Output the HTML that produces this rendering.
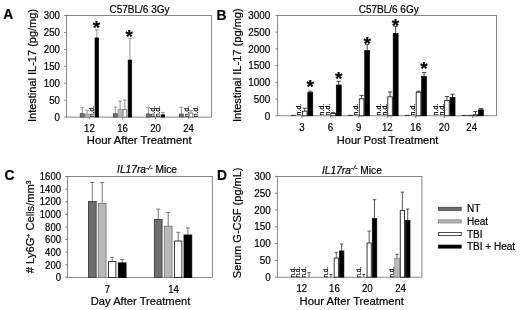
<!DOCTYPE html>
<html lang="en">
<head>
<meta charset="utf-8">
<title>Figure</title>
<style>
html,body{margin:0;padding:0;background:#fff;}
body{width:520px;height:310px;overflow:hidden;}
svg{display:block;filter:blur(0.3px);font-family:'Liberation Sans', Arial, sans-serif;fill:#000;}
text{stroke:#000;stroke-width:0.2px;}
</style>
</head>
<body>
<svg width="520" height="310" viewBox="0 0 520 310">
<rect x="0" y="0" width="520" height="310" fill="#ffffff"/>
<rect x="66.40" y="15.50" width="145.20" height="101.60" fill="none" stroke="#606060" stroke-width="0.75"/>
<line x1="64.10" y1="117.10" x2="66.40" y2="117.10" stroke="#606060" stroke-width="0.75"/>
<text transform="translate(60.00 120.92) scale(0.95 1)" font-size="10.2" text-anchor="end" font-weight="normal" font-style="normal">0</text>
<line x1="64.10" y1="100.17" x2="66.40" y2="100.17" stroke="#606060" stroke-width="0.75"/>
<text transform="translate(60.00 103.99) scale(0.95 1)" font-size="10.2" text-anchor="end" font-weight="normal" font-style="normal">50</text>
<line x1="64.10" y1="83.23" x2="66.40" y2="83.23" stroke="#606060" stroke-width="0.75"/>
<text transform="translate(60.00 87.06) scale(0.95 1)" font-size="10.2" text-anchor="end" font-weight="normal" font-style="normal">100</text>
<line x1="64.10" y1="66.30" x2="66.40" y2="66.30" stroke="#606060" stroke-width="0.75"/>
<text transform="translate(60.00 70.12) scale(0.95 1)" font-size="10.2" text-anchor="end" font-weight="normal" font-style="normal">150</text>
<line x1="64.10" y1="49.37" x2="66.40" y2="49.37" stroke="#606060" stroke-width="0.75"/>
<text transform="translate(60.00 53.19) scale(0.95 1)" font-size="10.2" text-anchor="end" font-weight="normal" font-style="normal">200</text>
<line x1="64.10" y1="32.43" x2="66.40" y2="32.43" stroke="#606060" stroke-width="0.75"/>
<text transform="translate(60.00 36.26) scale(0.95 1)" font-size="10.2" text-anchor="end" font-weight="normal" font-style="normal">250</text>
<line x1="64.10" y1="15.50" x2="66.40" y2="15.50" stroke="#606060" stroke-width="0.75"/>
<text transform="translate(60.00 19.32) scale(0.95 1)" font-size="10.2" text-anchor="end" font-weight="normal" font-style="normal">300</text>
<text transform="translate(32.80 65.50) rotate(-90) scale(1.048 1)" font-size="10.5" text-anchor="middle" font-weight="normal" font-style="normal" dy="3.6">Intestinal IL-17 (pg/mg)</text>
<text x="139.50" y="12.60" font-size="10" text-anchor="middle" font-weight="normal" font-style="normal">C57BL/6 3Gy</text>
<text x="3.20" y="19.00" font-size="13.8" text-anchor="start" font-weight="bold" font-style="normal">A</text>
<line x1="89.40" y1="117.10" x2="89.40" y2="119.30" stroke="#606060" stroke-width="0.75"/>
<text transform="translate(89.40 131.80) scale(0.94 1)" font-size="10.3" text-anchor="middle" font-weight="normal" font-style="normal">12</text>
<line x1="82.20" y1="107.30" x2="82.20" y2="113.70" stroke="#888" stroke-width="0.9"/>
<line x1="80.40" y1="107.30" x2="84.00" y2="107.30" stroke="#888" stroke-width="0.9"/>
<rect x="80.15" y="113.70" width="4.10" height="3.40" fill="#6e6e6e" stroke="#3c3c3c" stroke-width="0.6"/>
<line x1="87.00" y1="110.10" x2="87.00" y2="114.00" stroke="#888" stroke-width="0.9"/>
<line x1="85.20" y1="110.10" x2="88.80" y2="110.10" stroke="#888" stroke-width="0.9"/>
<rect x="84.95" y="114.00" width="4.10" height="3.10" fill="#b8b8b8" stroke="#7a7a7a" stroke-width="0.6"/>
<text transform="translate(94.13 117.00) rotate(-90) scale(1.0 1)" font-size="6.6" text-anchor="start" font-weight="normal" font-style="normal">n.d.</text>
<line x1="96.83" y1="29.80" x2="96.83" y2="37.90" stroke="#888" stroke-width="0.9"/>
<line x1="95.03" y1="29.80" x2="98.63" y2="29.80" stroke="#888" stroke-width="0.9"/>
<rect x="95.00" y="37.90" width="3.65" height="79.20" fill="#000000" stroke="#000" stroke-width="0.6"/>
<line x1="122.50" y1="117.10" x2="122.50" y2="119.30" stroke="#606060" stroke-width="0.75"/>
<text transform="translate(122.50 131.80) scale(0.94 1)" font-size="10.3" text-anchor="middle" font-weight="normal" font-style="normal">16</text>
<line x1="115.30" y1="107.00" x2="115.30" y2="113.70" stroke="#888" stroke-width="0.9"/>
<line x1="113.50" y1="107.00" x2="117.10" y2="107.00" stroke="#888" stroke-width="0.9"/>
<rect x="113.25" y="113.70" width="4.10" height="3.40" fill="#6e6e6e" stroke="#3c3c3c" stroke-width="0.6"/>
<line x1="120.10" y1="101.10" x2="120.10" y2="109.30" stroke="#888" stroke-width="0.9"/>
<line x1="118.30" y1="101.10" x2="121.90" y2="101.10" stroke="#888" stroke-width="0.9"/>
<rect x="118.05" y="109.30" width="4.10" height="7.80" fill="#b8b8b8" stroke="#7a7a7a" stroke-width="0.6"/>
<line x1="124.90" y1="100.10" x2="124.90" y2="109.30" stroke="#888" stroke-width="0.9"/>
<line x1="123.10" y1="100.10" x2="126.70" y2="100.10" stroke="#888" stroke-width="0.9"/>
<rect x="123.05" y="109.50" width="3.70" height="7.60" fill="#ffffff" stroke="#777" stroke-width="0.9"/>
<line x1="129.92" y1="38.30" x2="129.92" y2="60.00" stroke="#888" stroke-width="0.9"/>
<line x1="128.12" y1="38.30" x2="131.72" y2="38.30" stroke="#888" stroke-width="0.9"/>
<rect x="128.10" y="60.00" width="3.65" height="57.10" fill="#000000" stroke="#000" stroke-width="0.6"/>
<line x1="155.50" y1="117.10" x2="155.50" y2="119.30" stroke="#606060" stroke-width="0.75"/>
<text transform="translate(155.50 131.80) scale(0.94 1)" font-size="10.3" text-anchor="middle" font-weight="normal" font-style="normal">20</text>
<line x1="148.30" y1="107.30" x2="148.30" y2="114.00" stroke="#888" stroke-width="0.9"/>
<line x1="146.50" y1="107.30" x2="150.10" y2="107.30" stroke="#888" stroke-width="0.9"/>
<rect x="146.25" y="114.00" width="4.10" height="3.10" fill="#6e6e6e" stroke="#3c3c3c" stroke-width="0.6"/>
<text transform="translate(155.43 117.00) rotate(-90) scale(1.0 1)" font-size="6.6" text-anchor="start" font-weight="normal" font-style="normal">n.d.</text>
<text transform="translate(160.23 117.00) rotate(-90) scale(1.0 1)" font-size="6.6" text-anchor="start" font-weight="normal" font-style="normal">n.d.</text>
<line x1="162.92" y1="112.40" x2="162.92" y2="114.80" stroke="#888" stroke-width="0.9"/>
<line x1="161.12" y1="112.40" x2="164.72" y2="112.40" stroke="#888" stroke-width="0.9"/>
<rect x="161.10" y="114.80" width="3.65" height="2.30" fill="#000000" stroke="#000" stroke-width="0.6"/>
<line x1="188.60" y1="117.10" x2="188.60" y2="119.30" stroke="#606060" stroke-width="0.75"/>
<text transform="translate(188.60 131.80) scale(0.94 1)" font-size="10.3" text-anchor="middle" font-weight="normal" font-style="normal">24</text>
<line x1="181.40" y1="107.30" x2="181.40" y2="114.00" stroke="#888" stroke-width="0.9"/>
<line x1="179.60" y1="107.30" x2="183.20" y2="107.30" stroke="#888" stroke-width="0.9"/>
<rect x="179.35" y="114.00" width="4.10" height="3.10" fill="#6e6e6e" stroke="#3c3c3c" stroke-width="0.6"/>
<text transform="translate(188.53 117.00) rotate(-90) scale(1.0 1)" font-size="6.6" text-anchor="start" font-weight="normal" font-style="normal">n.d.</text>
<line x1="191.00" y1="110.60" x2="191.00" y2="112.90" stroke="#888" stroke-width="0.9"/>
<line x1="189.20" y1="110.60" x2="192.80" y2="110.60" stroke="#888" stroke-width="0.9"/>
<rect x="189.15" y="113.10" width="3.70" height="4.00" fill="#ffffff" stroke="#777" stroke-width="0.9"/>
<text transform="translate(198.13 117.00) rotate(-90) scale(1.0 1)" font-size="6.6" text-anchor="start" font-weight="normal" font-style="normal">n.d.</text>
<text x="96.50" y="34.23" font-size="19" text-anchor="middle" font-weight="bold" font-style="normal">*</text>
<text x="129.10" y="43.33" font-size="19" text-anchor="middle" font-weight="bold" font-style="normal">*</text>
<text x="139.20" y="144.40" font-size="11.3" text-anchor="middle" font-weight="normal" font-style="normal">Hour After Treatment</text>
<rect x="277.70" y="15.40" width="218.90" height="100.40" fill="none" stroke="#606060" stroke-width="0.75"/>
<line x1="275.40" y1="115.80" x2="277.70" y2="115.80" stroke="#606060" stroke-width="0.75"/>
<text transform="translate(270.30 119.54) scale(0.95 1)" font-size="10.4" text-anchor="end" font-weight="normal" font-style="normal">0</text>
<line x1="275.40" y1="99.07" x2="277.70" y2="99.07" stroke="#606060" stroke-width="0.75"/>
<text transform="translate(270.30 102.81) scale(0.95 1)" font-size="10.4" text-anchor="end" font-weight="normal" font-style="normal">500</text>
<line x1="275.40" y1="82.33" x2="277.70" y2="82.33" stroke="#606060" stroke-width="0.75"/>
<text transform="translate(270.30 86.08) scale(0.95 1)" font-size="10.4" text-anchor="end" font-weight="normal" font-style="normal">1000</text>
<line x1="275.40" y1="65.60" x2="277.70" y2="65.60" stroke="#606060" stroke-width="0.75"/>
<text transform="translate(270.30 69.34) scale(0.95 1)" font-size="10.4" text-anchor="end" font-weight="normal" font-style="normal">1500</text>
<line x1="275.40" y1="48.87" x2="277.70" y2="48.87" stroke="#606060" stroke-width="0.75"/>
<text transform="translate(270.30 52.61) scale(0.95 1)" font-size="10.4" text-anchor="end" font-weight="normal" font-style="normal">2000</text>
<line x1="275.40" y1="32.13" x2="277.70" y2="32.13" stroke="#606060" stroke-width="0.75"/>
<text transform="translate(270.30 35.88) scale(0.95 1)" font-size="10.4" text-anchor="end" font-weight="normal" font-style="normal">2500</text>
<line x1="275.40" y1="15.40" x2="277.70" y2="15.40" stroke="#606060" stroke-width="0.75"/>
<text transform="translate(270.30 19.14) scale(0.95 1)" font-size="10.4" text-anchor="end" font-weight="normal" font-style="normal">3000</text>
<text transform="translate(237.20 65.20) rotate(-90) scale(1.055 1)" font-size="10.5" text-anchor="middle" font-weight="normal" font-style="normal" dy="3.6">Intestinal IL-17 (pg/mg)</text>
<text x="388.70" y="12.50" font-size="10" text-anchor="middle" font-weight="normal" font-style="normal">C57BL/6 6Gy</text>
<text x="216.60" y="19.70" font-size="13.8" text-anchor="start" font-weight="bold" font-style="normal">B</text>
<line x1="301.90" y1="115.80" x2="301.90" y2="118.00" stroke="#606060" stroke-width="0.75"/>
<text transform="translate(301.90 130.50) scale(0.94 1)" font-size="10.3" text-anchor="middle" font-weight="normal" font-style="normal">3</text>
<rect x="291.00" y="114.90" width="5.00" height="0.90" fill="#222"/>
<text transform="translate(301.31 115.40) rotate(-90) scale(1.0 1)" font-size="7.0" text-anchor="start" font-weight="normal" font-style="normal">n.d.</text>
<line x1="304.70" y1="108.20" x2="304.70" y2="111.00" stroke="#333" stroke-width="0.9"/>
<line x1="302.60" y1="108.20" x2="306.80" y2="108.20" stroke="#333" stroke-width="0.9"/>
<rect x="302.40" y="111.20" width="4.60" height="4.60" fill="#ffffff" stroke="#222" stroke-width="0.9"/>
<line x1="310.30" y1="91.20" x2="310.30" y2="92.50" stroke="#333" stroke-width="0.9"/>
<line x1="308.20" y1="91.20" x2="312.40" y2="91.20" stroke="#333" stroke-width="0.9"/>
<rect x="307.80" y="92.50" width="5.00" height="23.30" fill="#000000" stroke="#000" stroke-width="0.6"/>
<line x1="330.35" y1="115.80" x2="330.35" y2="118.00" stroke="#606060" stroke-width="0.75"/>
<text transform="translate(330.35 130.50) scale(0.94 1)" font-size="10.3" text-anchor="middle" font-weight="normal" font-style="normal">6</text>
<text transform="translate(323.76 115.40) rotate(-90) scale(1.0 1)" font-size="7.0" text-anchor="start" font-weight="normal" font-style="normal">n.d.</text>
<text transform="translate(329.76 115.40) rotate(-90) scale(1.0 1)" font-size="7.0" text-anchor="start" font-weight="normal" font-style="normal">n.d.</text>
<line x1="333.15" y1="112.60" x2="333.15" y2="113.30" stroke="#333" stroke-width="0.9"/>
<line x1="331.05" y1="112.60" x2="335.25" y2="112.60" stroke="#333" stroke-width="0.9"/>
<rect x="330.85" y="113.50" width="4.60" height="2.30" fill="#ffffff" stroke="#222" stroke-width="0.9"/>
<line x1="338.75" y1="81.30" x2="338.75" y2="85.00" stroke="#333" stroke-width="0.9"/>
<line x1="336.65" y1="81.30" x2="340.85" y2="81.30" stroke="#333" stroke-width="0.9"/>
<rect x="336.25" y="85.00" width="5.00" height="30.80" fill="#000000" stroke="#000" stroke-width="0.6"/>
<line x1="358.80" y1="115.80" x2="358.80" y2="118.00" stroke="#606060" stroke-width="0.75"/>
<text transform="translate(358.80 130.50) scale(0.94 1)" font-size="10.3" text-anchor="middle" font-weight="normal" font-style="normal">9</text>
<rect x="347.90" y="114.90" width="5.00" height="0.90" fill="#222"/>
<text transform="translate(358.21 115.40) rotate(-90) scale(1.0 1)" font-size="7.0" text-anchor="start" font-weight="normal" font-style="normal">n.d.</text>
<line x1="361.60" y1="95.40" x2="361.60" y2="98.60" stroke="#333" stroke-width="0.9"/>
<line x1="359.50" y1="95.40" x2="363.70" y2="95.40" stroke="#333" stroke-width="0.9"/>
<rect x="359.30" y="98.80" width="4.60" height="17.00" fill="#ffffff" stroke="#222" stroke-width="0.9"/>
<line x1="367.20" y1="44.40" x2="367.20" y2="50.60" stroke="#333" stroke-width="0.9"/>
<line x1="365.10" y1="44.40" x2="369.30" y2="44.40" stroke="#333" stroke-width="0.9"/>
<rect x="364.70" y="50.60" width="5.00" height="65.20" fill="#000000" stroke="#000" stroke-width="0.6"/>
<line x1="387.25" y1="115.80" x2="387.25" y2="118.00" stroke="#606060" stroke-width="0.75"/>
<text transform="translate(387.25 130.50) scale(0.94 1)" font-size="10.3" text-anchor="middle" font-weight="normal" font-style="normal">12</text>
<text transform="translate(380.66 115.40) rotate(-90) scale(1.0 1)" font-size="7.0" text-anchor="start" font-weight="normal" font-style="normal">n.d.</text>
<text transform="translate(386.66 115.40) rotate(-90) scale(1.0 1)" font-size="7.0" text-anchor="start" font-weight="normal" font-style="normal">n.d.</text>
<line x1="390.05" y1="92.00" x2="390.05" y2="96.60" stroke="#333" stroke-width="0.9"/>
<line x1="387.95" y1="92.00" x2="392.15" y2="92.00" stroke="#333" stroke-width="0.9"/>
<rect x="387.75" y="96.80" width="4.60" height="19.00" fill="#ffffff" stroke="#222" stroke-width="0.9"/>
<line x1="395.65" y1="26.30" x2="395.65" y2="33.30" stroke="#333" stroke-width="0.9"/>
<line x1="393.55" y1="26.30" x2="397.75" y2="26.30" stroke="#333" stroke-width="0.9"/>
<rect x="393.15" y="33.30" width="5.00" height="82.50" fill="#000000" stroke="#000" stroke-width="0.6"/>
<line x1="415.70" y1="115.80" x2="415.70" y2="118.00" stroke="#606060" stroke-width="0.75"/>
<text transform="translate(415.70 130.50) scale(0.94 1)" font-size="10.3" text-anchor="middle" font-weight="normal" font-style="normal">16</text>
<rect x="404.80" y="114.90" width="5.00" height="0.90" fill="#222"/>
<text transform="translate(415.11 115.40) rotate(-90) scale(1.0 1)" font-size="7.0" text-anchor="start" font-weight="normal" font-style="normal">n.d.</text>
<line x1="418.50" y1="91.20" x2="418.50" y2="92.00" stroke="#333" stroke-width="0.9"/>
<line x1="416.40" y1="91.20" x2="420.60" y2="91.20" stroke="#333" stroke-width="0.9"/>
<rect x="416.20" y="92.20" width="4.60" height="23.60" fill="#ffffff" stroke="#222" stroke-width="0.9"/>
<line x1="424.10" y1="72.60" x2="424.10" y2="76.50" stroke="#333" stroke-width="0.9"/>
<line x1="422.00" y1="72.60" x2="426.20" y2="72.60" stroke="#333" stroke-width="0.9"/>
<rect x="421.60" y="76.50" width="5.00" height="39.30" fill="#000000" stroke="#000" stroke-width="0.6"/>
<line x1="444.15" y1="115.80" x2="444.15" y2="118.00" stroke="#606060" stroke-width="0.75"/>
<text transform="translate(444.15 130.50) scale(0.94 1)" font-size="10.3" text-anchor="middle" font-weight="normal" font-style="normal">20</text>
<text transform="translate(437.56 115.40) rotate(-90) scale(1.0 1)" font-size="7.0" text-anchor="start" font-weight="normal" font-style="normal">n.d.</text>
<text transform="translate(443.56 115.40) rotate(-90) scale(1.0 1)" font-size="7.0" text-anchor="start" font-weight="normal" font-style="normal">n.d.</text>
<line x1="446.95" y1="96.50" x2="446.95" y2="100.40" stroke="#333" stroke-width="0.9"/>
<line x1="444.85" y1="96.50" x2="449.05" y2="96.50" stroke="#333" stroke-width="0.9"/>
<rect x="444.65" y="100.60" width="4.60" height="15.20" fill="#ffffff" stroke="#222" stroke-width="0.9"/>
<line x1="452.55" y1="94.20" x2="452.55" y2="97.40" stroke="#333" stroke-width="0.9"/>
<line x1="450.45" y1="94.20" x2="454.65" y2="94.20" stroke="#333" stroke-width="0.9"/>
<rect x="450.05" y="97.40" width="5.00" height="18.40" fill="#000000" stroke="#000" stroke-width="0.6"/>
<line x1="472.60" y1="115.80" x2="472.60" y2="118.00" stroke="#606060" stroke-width="0.75"/>
<text transform="translate(471.70 130.50) scale(0.94 1)" font-size="10.3" text-anchor="middle" font-weight="normal" font-style="normal">24</text>
<rect x="461.70" y="114.90" width="5.00" height="0.90" fill="#222"/>
<rect x="467.30" y="114.90" width="5.00" height="0.90" fill="#222"/>
<line x1="475.40" y1="111.40" x2="475.40" y2="114.50" stroke="#333" stroke-width="0.9"/>
<line x1="473.30" y1="111.40" x2="477.50" y2="111.40" stroke="#333" stroke-width="0.9"/>
<rect x="473.10" y="114.70" width="4.60" height="1.10" fill="#ffffff" stroke="#222" stroke-width="0.9"/>
<line x1="481.00" y1="108.60" x2="481.00" y2="109.80" stroke="#333" stroke-width="0.9"/>
<line x1="478.90" y1="108.60" x2="483.10" y2="108.60" stroke="#333" stroke-width="0.9"/>
<rect x="478.50" y="109.80" width="5.00" height="6.00" fill="#000000" stroke="#000" stroke-width="0.6"/>
<text x="310.10" y="93.03" font-size="19" text-anchor="middle" font-weight="bold" font-style="normal">*</text>
<text x="338.70" y="85.23" font-size="19" text-anchor="middle" font-weight="bold" font-style="normal">*</text>
<text x="367.10" y="49.83" font-size="19" text-anchor="middle" font-weight="bold" font-style="normal">*</text>
<text x="395.50" y="31.52" font-size="19" text-anchor="middle" font-weight="bold" font-style="normal">*</text>
<text x="423.90" y="74.83" font-size="19" text-anchor="middle" font-weight="bold" font-style="normal">*</text>
<text x="387.60" y="144.20" font-size="11" text-anchor="middle" font-weight="normal" font-style="normal">Hour Post Treatment</text>
<rect x="67.50" y="176.50" width="144.80" height="100.90" fill="none" stroke="#606060" stroke-width="0.75"/>
<line x1="65.20" y1="277.40" x2="67.50" y2="277.40" stroke="#606060" stroke-width="0.75"/>
<text transform="translate(61.00 281.11) scale(0.925 1)" font-size="10.3" text-anchor="end" font-weight="normal" font-style="normal">0</text>
<line x1="65.20" y1="264.79" x2="67.50" y2="264.79" stroke="#606060" stroke-width="0.75"/>
<text transform="translate(61.00 268.50) scale(0.925 1)" font-size="10.3" text-anchor="end" font-weight="normal" font-style="normal">200</text>
<line x1="65.20" y1="252.17" x2="67.50" y2="252.17" stroke="#606060" stroke-width="0.75"/>
<text transform="translate(61.00 255.88) scale(0.925 1)" font-size="10.3" text-anchor="end" font-weight="normal" font-style="normal">400</text>
<line x1="65.20" y1="239.56" x2="67.50" y2="239.56" stroke="#606060" stroke-width="0.75"/>
<text transform="translate(61.00 243.27) scale(0.925 1)" font-size="10.3" text-anchor="end" font-weight="normal" font-style="normal">600</text>
<line x1="65.20" y1="226.95" x2="67.50" y2="226.95" stroke="#606060" stroke-width="0.75"/>
<text transform="translate(61.00 230.66) scale(0.925 1)" font-size="10.3" text-anchor="end" font-weight="normal" font-style="normal">800</text>
<line x1="65.20" y1="214.34" x2="67.50" y2="214.34" stroke="#606060" stroke-width="0.75"/>
<text transform="translate(61.00 218.05) scale(0.925 1)" font-size="10.3" text-anchor="end" font-weight="normal" font-style="normal">1000</text>
<line x1="65.20" y1="201.72" x2="67.50" y2="201.72" stroke="#606060" stroke-width="0.75"/>
<text transform="translate(61.00 205.43) scale(0.925 1)" font-size="10.3" text-anchor="end" font-weight="normal" font-style="normal">1200</text>
<line x1="65.20" y1="189.11" x2="67.50" y2="189.11" stroke="#606060" stroke-width="0.75"/>
<text transform="translate(61.00 192.82) scale(0.925 1)" font-size="10.3" text-anchor="end" font-weight="normal" font-style="normal">1400</text>
<line x1="65.20" y1="176.50" x2="67.50" y2="176.50" stroke="#606060" stroke-width="0.75"/>
<text transform="translate(61.00 180.21) scale(0.925 1)" font-size="10.3" text-anchor="end" font-weight="normal" font-style="normal">1600</text>
<text x="30.50" y="226.80" font-size="11.15" text-anchor="middle" transform="rotate(-90 30.5 226.8)" dy="3.6"># Ly6G<tspan font-size="6.8" dy="-3.4">+</tspan><tspan dy="3.4"> Cells/mm</tspan><tspan font-size="6.8" dy="-3.4">3</tspan></text>
<text x="147.00" y="173.20" font-size="10.2" text-anchor="middle"><tspan font-style="italic">IL17ra</tspan><tspan font-size="7" dy="-3.4" font-style="italic">-/-</tspan><tspan dy="3.4"> Mice</tspan></text>
<text x="4.40" y="180.00" font-size="13.8" text-anchor="start" font-weight="bold" font-style="normal">C</text>
<text transform="translate(107.50 292.80) scale(0.93 1)" font-size="10.3" text-anchor="middle" font-weight="normal" font-style="normal">7</text>
<line x1="92.30" y1="182.50" x2="92.30" y2="201.50" stroke="#666" stroke-width="0.9"/>
<line x1="90.30" y1="182.50" x2="94.30" y2="182.50" stroke="#666" stroke-width="0.9"/>
<rect x="88.45" y="201.50" width="7.70" height="75.90" fill="#6e6e6e" stroke="#3c3c3c" stroke-width="0.9"/>
<line x1="102.20" y1="182.50" x2="102.20" y2="203.40" stroke="#666" stroke-width="0.9"/>
<line x1="100.20" y1="182.50" x2="104.20" y2="182.50" stroke="#666" stroke-width="0.9"/>
<rect x="98.35" y="203.40" width="7.70" height="74.00" fill="#b8b8b8" stroke="#7a7a7a" stroke-width="0.9"/>
<line x1="112.20" y1="257.40" x2="112.20" y2="261.40" stroke="#666" stroke-width="0.9"/>
<line x1="110.20" y1="257.40" x2="114.20" y2="257.40" stroke="#666" stroke-width="0.9"/>
<rect x="108.55" y="261.60" width="7.30" height="15.80" fill="#ffffff" stroke="#222" stroke-width="0.9"/>
<line x1="122.20" y1="259.40" x2="122.20" y2="262.90" stroke="#666" stroke-width="0.9"/>
<line x1="120.20" y1="259.40" x2="124.20" y2="259.40" stroke="#666" stroke-width="0.9"/>
<rect x="118.35" y="262.90" width="7.70" height="14.50" fill="#000000" stroke="#000" stroke-width="0.9"/>
<text transform="translate(173.50 292.80) scale(0.93 1)" font-size="10.3" text-anchor="middle" font-weight="normal" font-style="normal">14</text>
<line x1="158.20" y1="209.10" x2="158.20" y2="219.40" stroke="#666" stroke-width="0.9"/>
<line x1="156.20" y1="209.10" x2="160.20" y2="209.10" stroke="#666" stroke-width="0.9"/>
<rect x="154.35" y="219.40" width="7.70" height="58.00" fill="#6e6e6e" stroke="#3c3c3c" stroke-width="0.9"/>
<line x1="168.20" y1="212.40" x2="168.20" y2="226.20" stroke="#666" stroke-width="0.9"/>
<line x1="166.20" y1="212.40" x2="170.20" y2="212.40" stroke="#666" stroke-width="0.9"/>
<rect x="164.35" y="226.20" width="7.70" height="51.20" fill="#b8b8b8" stroke="#7a7a7a" stroke-width="0.9"/>
<line x1="178.20" y1="232.30" x2="178.20" y2="240.80" stroke="#666" stroke-width="0.9"/>
<line x1="176.20" y1="232.30" x2="180.20" y2="232.30" stroke="#666" stroke-width="0.9"/>
<rect x="174.55" y="241.00" width="7.30" height="36.40" fill="#ffffff" stroke="#222" stroke-width="0.9"/>
<line x1="187.90" y1="228.00" x2="187.90" y2="235.00" stroke="#666" stroke-width="0.9"/>
<line x1="185.90" y1="228.00" x2="189.90" y2="228.00" stroke="#666" stroke-width="0.9"/>
<rect x="184.05" y="235.00" width="7.70" height="42.40" fill="#000000" stroke="#000" stroke-width="0.9"/>
<text x="140.50" y="304.80" font-size="11.2" text-anchor="middle" font-weight="normal" font-style="normal">Day After Treatment</text>
<rect x="277.30" y="176.40" width="144.60" height="100.80" fill="none" stroke="#606060" stroke-width="0.75"/>
<line x1="275.00" y1="277.20" x2="277.30" y2="277.20" stroke="#606060" stroke-width="0.75"/>
<text transform="translate(270.80 280.74) scale(0.95 1)" font-size="10.4" text-anchor="end" font-weight="normal" font-style="normal">0</text>
<line x1="275.00" y1="260.40" x2="277.30" y2="260.40" stroke="#606060" stroke-width="0.75"/>
<text transform="translate(270.80 263.94) scale(0.95 1)" font-size="10.4" text-anchor="end" font-weight="normal" font-style="normal">50</text>
<line x1="275.00" y1="243.60" x2="277.30" y2="243.60" stroke="#606060" stroke-width="0.75"/>
<text transform="translate(270.80 247.14) scale(0.95 1)" font-size="10.4" text-anchor="end" font-weight="normal" font-style="normal">100</text>
<line x1="275.00" y1="226.80" x2="277.30" y2="226.80" stroke="#606060" stroke-width="0.75"/>
<text transform="translate(270.80 230.34) scale(0.95 1)" font-size="10.4" text-anchor="end" font-weight="normal" font-style="normal">150</text>
<line x1="275.00" y1="210.00" x2="277.30" y2="210.00" stroke="#606060" stroke-width="0.75"/>
<text transform="translate(270.80 213.54) scale(0.95 1)" font-size="10.4" text-anchor="end" font-weight="normal" font-style="normal">200</text>
<line x1="275.00" y1="193.20" x2="277.30" y2="193.20" stroke="#606060" stroke-width="0.75"/>
<text transform="translate(270.80 196.74) scale(0.95 1)" font-size="10.4" text-anchor="end" font-weight="normal" font-style="normal">250</text>
<line x1="275.00" y1="176.40" x2="277.30" y2="176.40" stroke="#606060" stroke-width="0.75"/>
<text transform="translate(270.80 179.94) scale(0.95 1)" font-size="10.4" text-anchor="end" font-weight="normal" font-style="normal">300</text>
<text x="237.80" y="222.80" font-size="11" text-anchor="middle" font-weight="normal" font-style="normal" transform="rotate(-90 237.80 222.80)" dy="3.6">Serum G-CSF (pg/mL)</text>
<text x="351.90" y="173.70" font-size="10.2" text-anchor="middle"><tspan font-style="italic">IL17ra</tspan><tspan font-size="7" dy="-3.4" font-style="italic">-/-</tspan><tspan dy="3.4"> Mice</tspan></text>
<text x="217.00" y="179.90" font-size="13.8" text-anchor="start" font-weight="bold" font-style="normal">D</text>
<text transform="translate(301.80 291.90) scale(0.94 1)" font-size="10.3" text-anchor="middle" font-weight="normal" font-style="normal">12</text>
<text transform="translate(295.09 277.50) rotate(-90) scale(0.9 1)" font-size="7.0" text-anchor="start" font-weight="normal" font-style="normal">n.d.</text>
<text transform="translate(300.44 277.50) rotate(-90) scale(0.9 1)" font-size="7.0" text-anchor="start" font-weight="normal" font-style="normal">n.d.</text>
<text transform="translate(305.79 277.50) rotate(-90) scale(0.9 1)" font-size="7.0" text-anchor="start" font-weight="normal" font-style="normal">n.d.</text>
<line x1="309.03" y1="272.50" x2="309.03" y2="277.20" stroke="#444" stroke-width="0.9"/>
<line x1="307.63" y1="272.50" x2="310.43" y2="272.50" stroke="#444" stroke-width="0.9"/>
<text transform="translate(334.40 291.90) scale(0.94 1)" font-size="10.3" text-anchor="middle" font-weight="normal" font-style="normal">16</text>
<text transform="translate(327.69 277.50) rotate(-90) scale(0.9 1)" font-size="7.0" text-anchor="start" font-weight="normal" font-style="normal">n.d.</text>
<line x1="330.93" y1="274.50" x2="330.93" y2="277.20" stroke="#444" stroke-width="0.9"/>
<line x1="329.53" y1="274.50" x2="332.33" y2="274.50" stroke="#444" stroke-width="0.9"/>
<line x1="336.28" y1="252.30" x2="336.28" y2="257.90" stroke="#444" stroke-width="0.9"/>
<line x1="334.58" y1="252.30" x2="337.98" y2="252.30" stroke="#444" stroke-width="0.9"/>
<rect x="334.18" y="258.10" width="4.20" height="19.10" fill="#ffffff" stroke="#222" stroke-width="0.9"/>
<line x1="341.63" y1="244.00" x2="341.63" y2="250.90" stroke="#444" stroke-width="0.9"/>
<line x1="339.93" y1="244.00" x2="343.33" y2="244.00" stroke="#444" stroke-width="0.9"/>
<rect x="339.33" y="250.90" width="4.60" height="26.30" fill="#000000" stroke="#000" stroke-width="0.6"/>
<text transform="translate(367.30 291.90) scale(0.94 1)" font-size="10.3" text-anchor="middle" font-weight="normal" font-style="normal">20</text>
<text transform="translate(360.59 277.50) rotate(-90) scale(0.9 1)" font-size="7.0" text-anchor="start" font-weight="normal" font-style="normal">n.d.</text>
<line x1="363.83" y1="274.50" x2="363.83" y2="277.20" stroke="#444" stroke-width="0.9"/>
<line x1="362.43" y1="274.50" x2="365.23" y2="274.50" stroke="#444" stroke-width="0.9"/>
<line x1="369.18" y1="231.10" x2="369.18" y2="242.80" stroke="#444" stroke-width="0.9"/>
<line x1="367.48" y1="231.10" x2="370.88" y2="231.10" stroke="#444" stroke-width="0.9"/>
<rect x="367.07" y="243.00" width="4.20" height="34.20" fill="#ffffff" stroke="#222" stroke-width="0.9"/>
<line x1="374.53" y1="199.70" x2="374.53" y2="218.50" stroke="#444" stroke-width="0.9"/>
<line x1="372.83" y1="199.70" x2="376.23" y2="199.70" stroke="#444" stroke-width="0.9"/>
<rect x="372.23" y="218.50" width="4.60" height="58.70" fill="#000000" stroke="#000" stroke-width="0.6"/>
<text transform="translate(400.50 291.90) scale(0.94 1)" font-size="10.3" text-anchor="middle" font-weight="normal" font-style="normal">24</text>
<text transform="translate(393.79 277.50) rotate(-90) scale(0.9 1)" font-size="7.0" text-anchor="start" font-weight="normal" font-style="normal">n.d.</text>
<line x1="397.03" y1="254.30" x2="397.03" y2="258.20" stroke="#444" stroke-width="0.9"/>
<line x1="395.33" y1="254.30" x2="398.73" y2="254.30" stroke="#444" stroke-width="0.9"/>
<rect x="394.73" y="258.20" width="4.60" height="19.00" fill="#b8b8b8" stroke="#7a7a7a" stroke-width="0.6"/>
<line x1="402.38" y1="192.10" x2="402.38" y2="210.20" stroke="#444" stroke-width="0.9"/>
<line x1="400.68" y1="192.10" x2="404.07" y2="192.10" stroke="#444" stroke-width="0.9"/>
<rect x="400.27" y="210.40" width="4.20" height="66.80" fill="#ffffff" stroke="#222" stroke-width="0.9"/>
<line x1="407.73" y1="209.00" x2="407.73" y2="220.30" stroke="#444" stroke-width="0.9"/>
<line x1="406.03" y1="209.00" x2="409.43" y2="209.00" stroke="#444" stroke-width="0.9"/>
<rect x="405.43" y="220.30" width="4.60" height="56.90" fill="#000000" stroke="#000" stroke-width="0.6"/>
<text x="351.80" y="304.80" font-size="11.25" text-anchor="middle" font-weight="normal" font-style="normal">Hour After Treatment</text>
<rect x="438.40" y="207.30" width="22.80" height="3.00" fill="#6e6e6e" stroke="#3c3c3c" stroke-width="0.8"/>
<text x="467.00" y="212.40" font-size="10" text-anchor="start" font-weight="normal" font-style="normal">NT</text>
<rect x="438.40" y="219.90" width="22.80" height="3.00" fill="#b8b8b8" stroke="#7a7a7a" stroke-width="0.8"/>
<text x="467.00" y="225.00" font-size="10" text-anchor="start" font-weight="normal" font-style="normal">Heat</text>
<rect x="438.40" y="232.50" width="22.80" height="3.00" fill="#ffffff" stroke="#222" stroke-width="0.8"/>
<text x="467.00" y="237.60" font-size="10" text-anchor="start" font-weight="normal" font-style="normal">TBI</text>
<rect x="438.40" y="245.10" width="22.80" height="3.00" fill="#000000" stroke="#000" stroke-width="0.8"/>
<text x="467.00" y="250.20" font-size="10" text-anchor="start" font-weight="normal" font-style="normal">TBI + Heat</text>
</svg>
</body>
</html>
